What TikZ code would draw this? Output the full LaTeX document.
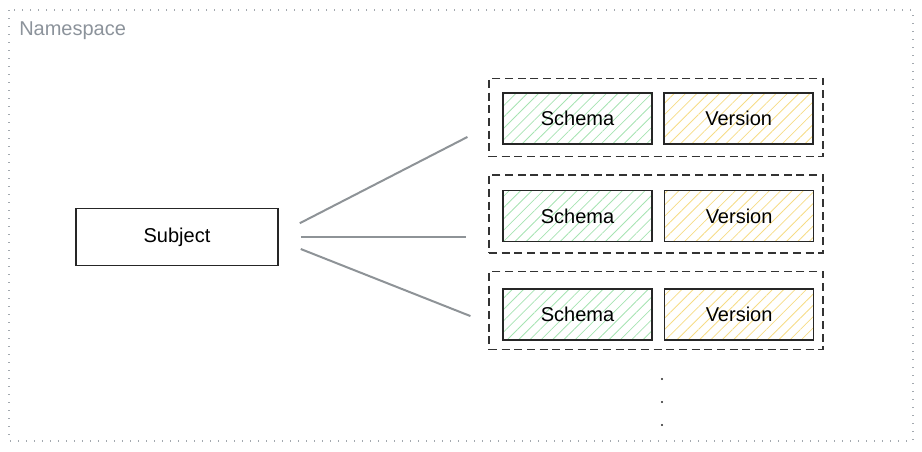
\documentclass[tikz,border=0pt]{standalone}
\usepackage{fontspec}
\setmainfont{Liberation Sans}
\usepackage{tikz}
\usetikzlibrary{positioning}
\usetikzlibrary{patterns.meta}
\definecolor{nsgray}{HTML}{8C939B}
\definecolor{linkgray}{HTML}{8E9397}
\definecolor{schemagreen}{HTML}{A6E3B2}
\definecolor{versionyellow}{HTML}{F6DC86}
\tikzset{
    namespace diagram/.style={
            x=0.75pt,y=-0.75pt,
            font=\fontsize{15pt}{18pt}\selectfont,
            box/.style={draw=black!85,line width=1.2pt,inner sep=0pt,
                minimum width=111.75pt,minimum height=38.25pt},
            schema/.style={box,pattern={Lines[angle=45,distance=6pt,line width=0.6pt]},
                pattern color=schemagreen},
            version/.style={box,pattern={Lines[angle=45,distance=6pt,line width=0.6pt]},
                pattern color=versionyellow},
            entry/.style={draw=black!80,line width=0.9pt,dash pattern=on 6pt off 3.5pt,
                minimum width=250.5pt,minimum height=58.5pt},
            link/.style={draw=linkgray,line width=1.5pt}
        }
    }

\begin{document}
\begin{tikzpicture}[namespace diagram, node distance=34.1pt]
    \useasboundingbox (0,0) rectangle (922,451);
    \draw [draw=nsgray!80,line width=1pt,dash pattern=on 0.9pt off 5.1pt] (9,10) rectangle (913,441);
    \node (ns) [anchor=west,inner sep=0pt,text=nsgray] at (19,31) {Namespace};
    \node (subject) [box,minimum width=151.5pt,minimum height=42.75pt] at (177,237) {Subject};
    \node (e1) [entry] at (656,117.5) {};
    \node (e2) [entry] at (656,214) {};
    \node (e3) [entry] at (656,310.5) {};
    \node (s1) [schema] at (577.5,118.5) {Schema};
    \node (s2) [schema,below=of s1] {Schema};
    \node (s3) [schema,below=of s2] {Schema};
    \node (v1) [version,right=8.25pt of s1] {Version};
    \node (v2) [version,right=8.25pt of s2] {Version};
    \node (v3) [version,right=8.25pt of s3] {Version};
    \draw [link,shorten <=17.7pt,shorten >=17.7pt] ([yshift=2.25pt]subject.east) -- ([yshift=-6.5pt]e1.west);
    \draw [link,shorten <=16.5pt,shorten >=16.5pt] (subject.east) -- ([yshift=-17.25pt]e2.west);
    \draw [link,shorten <=17.7pt,shorten >=14.5pt] ([yshift=-2.5pt]subject.east) -- ([yshift=-9.5pt]e3.west);
    \fill [black!85] (662,379) circle (0.9pt) (662,402) circle (0.9pt) (662,425) circle (0.9pt);
\end{tikzpicture}
\end{document}
